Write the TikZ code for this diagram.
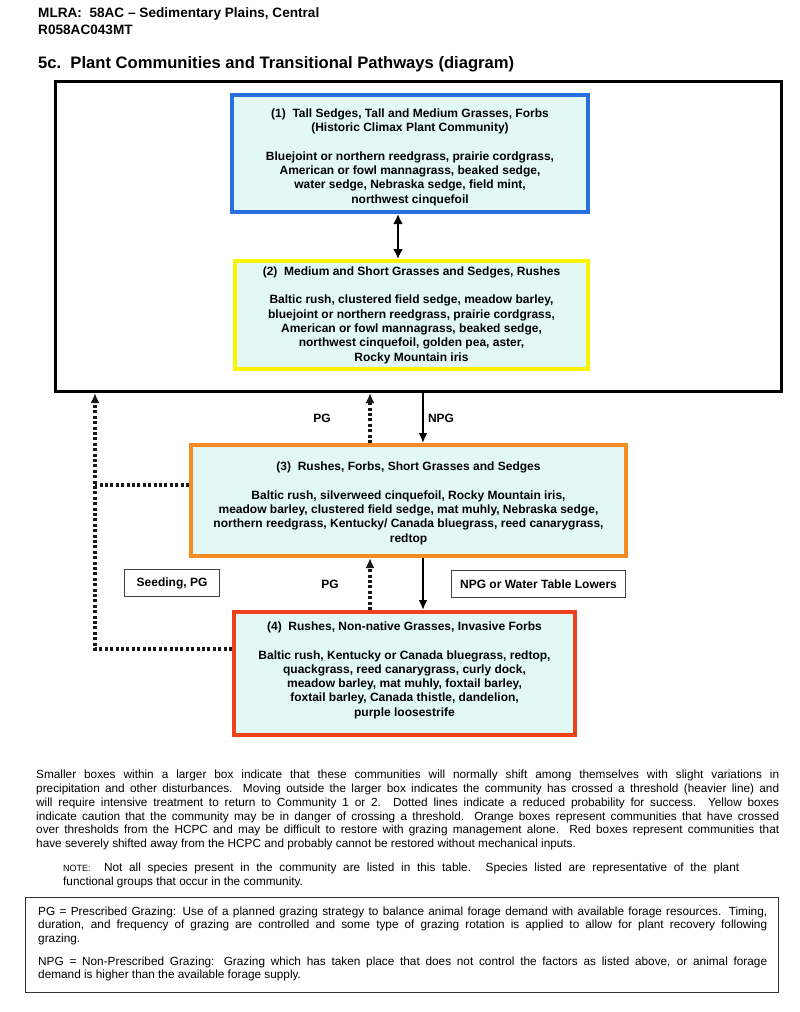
\documentclass[tikz,border=0pt]{standalone}
\usepackage{fontspec}
\setmainfont{Liberation Sans}
\usetikzlibrary{arrows.meta}
\definecolor{hcpcblue}{RGB}{40,112,225}
\definecolor{cautionyellow}{RGB}{250,244,0}
\definecolor{crossedorange}{RGB}{245,140,35}
\definecolor{shiftedred}{RGB}{238,66,30}
\definecolor{commfill}{RGB}{226,248,245}
\tikzstyle{community}=[draw, fill=commfill, line width=4pt, inner sep=0pt, align=center, font=\fontsize{12}{14.3}\selectfont\bfseries]
\tikzstyle{tag}=[inner sep=0pt, font=\fontsize{12}{14}\selectfont\bfseries]
\tikzstyle{tagbox}=[draw=black!75, line width=1.2pt, inner sep=0pt, font=\fontsize{12}{14}\selectfont\bfseries]
\tikzstyle{pathway}=[line width=1.9pt, -{Latex[length=10pt,width=9pt]}]
\tikzstyle{twoway}=[line width=2.6pt, {Latex[length=10pt,width=10pt]}-{Latex[length=10pt,width=10pt]}]
\tikzstyle{dotline}=[line width=3.2pt, dash pattern=on 3pt off 2.4pt, color=black!90]
\tikzstyle{dotpath}=[dotline, -{Latex[length=10pt,width=9pt]}]
\tikzstyle{para}=[inner sep=0pt, anchor=north west, align=justify, font=\fontsize{11.8}{13.9}\selectfont]

\begin{document}
\begin{tikzpicture}[x=1pt,y=-1pt]
    \useasboundingbox [fill=white] (0,0) rectangle (800,1012);
    % header
    \node [anchor=west, inner sep=0pt, font=\fontsize{13.6}{16}\selectfont\bfseries] (mlra) at (38, 14) {MLRA:\ \ 58AC -- Sedimentary Plains, Central};
    \node [anchor=west, inner sep=0pt, font=\fontsize{13.6}{16}\selectfont\bfseries] (site) at (38, 29.5) {R058AC043MT};
    \node [anchor=west, inner sep=0pt, font=\fontsize{16.6}{19}\selectfont\bfseries] (title) at (38, 64) {5c.\ \ Plant Communities and Transitional Pathways (diagram)};

    % threshold box
    \node [draw, line width=3pt, inner sep=0pt, minimum width=726, minimum height=310] (threshold) at (418.5, 236.5) {};

    \node [community, draw=hcpcblue, minimum width=356, minimum height=117] (c1) at (410, 153.5)
        {\rule{0pt}{15.8pt}(1)\ \ Tall Sedges, Tall and Medium Grasses, Forbs\\(Historic Climax Plant Community)\\[14.3pt]
         Bluejoint or northern reedgrass, prairie cordgrass,\\American or fowl mannagrass, beaked sedge,\\
         water sedge, Nebraska sedge, field mint,\\northwest cinquefoil};
    \node [community, draw=cautionyellow, minimum width=353, minimum height=108] (c2) at (411.5, 315)
        {(2)\ \ Medium and Short Grasses and Sedges, Rushes\\[14.3pt]
         Baltic rush, clustered field sedge, meadow barley,\\bluejoint or northern reedgrass, prairie cordgrass,\\
         American or fowl mannagrass, beaked sedge,\\northwest cinquefoil, golden pea, aster,\\Rocky Mountain iris};
    \node [community, draw=crossedorange, minimum width=435, minimum height=111] (c3) at (408.5, 500.5)
        {\rule{0pt}{14.2pt}(3)\ \ Rushes, Forbs, Short Grasses and Sedges\\[14.3pt]
         Baltic rush, silverweed cinquefoil, Rocky Mountain iris,\\meadow barley, clustered field sedge, mat muhly, Nebraska sedge,\\
         northern reedgrass, Kentucky/ Canada bluegrass, reed canarygrass,\\redtop};
    \node [community, draw=shiftedred, minimum width=341, minimum height=123] (c4) at (404.5, 673.5)
        {(4)\ \ Rushes, Non-native Grasses, Invasive Forbs\\[14.3pt]
         Baltic rush, Kentucky or Canada bluegrass, redtop,\\quackgrass, reed canarygrass, curly dock,\\
         meadow barley, mat muhly, foxtail barley,\\foxtail barley, Canada thistle, dandelion,\\purple loosestrife\rule[-9.1pt]{0pt}{0pt}};

    % labels
    \node [tag] (pg1) at (322, 418) {PG};
    \node [tag] (npg1) at (441, 418) {NPG};
    \node [tag] (pg2) at (330, 584) {PG};
    \node [tagbox, minimum width=95, minimum height=27] (seed) at (172, 583) {Seeding, PG};
    \node [tagbox, minimum width=174, minimum height=27] (water) at (538.5, 584) {NPG or Water Table Lowers};

    % pathways
    \draw [twoway] ([xshift=-12]c1.south) -- ([xshift=-12]c1.south |- c2.north);
    \draw [dotpath] ([xshift=-38.5]c3.north) -- ([xshift=-38.5]c3.north |- threshold.south);
    \draw [pathway] ([xshift=14.5]c3.north |- threshold.south) -- ([xshift=14.5]c3.north);
    \draw [dotpath] ([xshift=-38.5]c3.south |- c4.north) -- ([xshift=-38.5]c3.south);
    \draw [pathway] ([xshift=14.5]c3.south) -- ([xshift=14.5]c3.south |- c4.north);
    \coordinate (bend) at (95, 649);
    \draw [dotline] ([yshift=15.5]c3.west) -- ([yshift=15.5]c3.west -| bend);
    \draw [dotpath] ([yshift=24.5]c4.west) -- (bend) -- (bend |- threshold.south);

    % notes
    \node [para, text width=743] (remarks) at (36, 769.6)
        {Smaller boxes within a larger box indicate that these communities will normally shift among themselves with slight variations in\linebreak
         precipitation and other disturbances.  Moving outside the larger box indicates the community has crossed a threshold (heavier line) and\linebreak
         will require intensive treatment to return to Community 1 or 2.  Dotted lines indicate a reduced probability for success.  Yellow boxes\linebreak
         indicate caution that the community may be in danger of crossing a threshold.  Orange boxes represent communities that have crossed\linebreak
         over thresholds from the HCPC and may be difficult to restore with grazing management alone.  Red boxes represent communities that\linebreak
         have severely shifted away from the HCPC and probably cannot be restored without mechanical inputs.};
    \node [para, text width=676] (note) at (63, 862.6)
        {{\fontsize{9}{10}\selectfont NOTE:}\ \ Not all species present in the community are listed in this table.  Species listed are representative of the plant\linebreak
         functional groups that occur in the community.};
    \node [draw=black!80, line width=1.3pt, inner sep=0pt, minimum width=752.7, minimum height=94.7] (defs) at (402, 945) {};
    \node [para, text width=729] (pgdef) at (38, 906.3)
        {PG = Prescribed Grazing:  Use of a planned grazing strategy to balance animal forage demand with available forage resources.  Timing,\linebreak
         duration, and frequency of grazing are controlled and some type of grazing rotation is applied to allow for plant recovery following\linebreak
         grazing.};
    \node [para, text width=729] (npgdef) at (38, 956.3)
        {NPG = Non-Prescribed Grazing:  Grazing which has taken place that does not control the factors as listed above, or animal forage\linebreak
         demand is higher than the available forage supply.};
\end{tikzpicture}
\end{document}
